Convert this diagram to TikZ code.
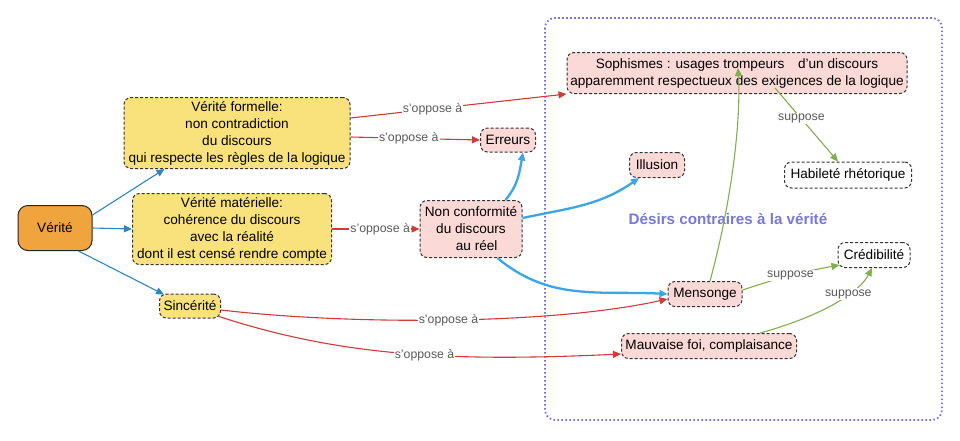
\documentclass[tikz,border=0pt]{standalone}
\usepackage{fontspec}
\setmainfont{Liberation Sans}
\usetikzlibrary{arrows.meta,calc}
\definecolor{yelfill}{HTML}{F9E27C}
\definecolor{pinkfill}{HTML}{FAD9D7}
\definecolor{orafill}{HTML}{F0A43E}
\definecolor{bluethin}{HTML}{2E86C1}
\definecolor{bluethick}{HTML}{3AA6E6}
\definecolor{redline}{HTML}{D23A3A}
\definecolor{greenline}{HTML}{80B04C}
\definecolor{purplebox}{HTML}{7F70E0}
\definecolor{titlecol}{HTML}{7878DC}
\definecolor{lblcol}{HTML}{5A5A5A}
\begin{document}
\begin{tikzpicture}[x=1pt,y=-1pt,
  concept/.style={draw=black!80, dash pattern=on 3pt off 2pt, line width=1pt,
    rounded corners=7pt, align=center, font=\fontsize{13.6}{17}\selectfont, inner sep=2pt},
  yel/.style={concept, fill=yelfill},
  pnk/.style={concept, fill=pinkfill},
  wht/.style={concept, fill=white},
  lbl/.style={fill=white, text=lblcol, font=\fontsize{12.3}{13}\selectfont, inner sep=1pt},
  tip/.style={-{Triangle[length=8pt,width=7pt]}},
  bthin/.style={tip, draw=bluethin, line width=1.1pt},
  bthick/.style={tip, draw=bluethick, line width=2.3pt},
  rline/.style={tip, draw=redline, line width=1.1pt},
  gline/.style={tip, draw=greenline, line width=1.1pt}
]
\useasboundingbox (0,0) rectangle (960,440);
\fill[white] (0,0) rectangle (960,440);

% big dotted container
\draw[purplebox, line width=1.8pt, dash pattern=on 1.6pt off 2.4pt, rounded corners=10pt]
  (545,18) rectangle (942,420);
\node[text=titlecol, font=\fontsize{15.2}{17}\selectfont\bfseries] (title) at (728,219) {Désirs contraires à la vérité};

% nodes
\node[draw=black!85, line width=1pt, fill=orafill, rounded corners=10pt,
      minimum width=74pt, minimum height=45pt, font=\fontsize{13.6}{16}\selectfont] (ver) at (55,228) {Vérité};
\node[yel, minimum width=226pt, minimum height=71pt] (form) at (237,133)
  {Vérité formelle:\\non contradiction\\du discours\\qui respecte les règles de la logique};
\node[yel, minimum width=199pt, minimum height=71pt] (mat) at (232,229)
  {Vérité matérielle:\\cohérence du discours\\avec la réalité\\dont il est censé rendre compte};
\node[yel, minimum width=61pt, minimum height=24pt] (sinc) at (190,306) {Sincérité};
\node[pnk, minimum width=55pt, minimum height=24pt] (err) at (508,140) {Erreurs};
\node[pnk, minimum width=102pt, minimum height=57pt] (nonc) at (471,229)
  {Non conformité\\du discours\\\ \ \ au réel};
\node[pnk, minimum width=55pt, minimum height=25pt] (ill) at (657,165) {Illusion};
\node[pnk, minimum width=340pt, minimum height=41pt] (soph) at (737,73)
  {Sophismes : usages trompeurs\quad d'un discours\\apparemment respectueux des exigences de la logique};
\node[wht, minimum width=127pt, minimum height=26pt] (hab) at (848,175) {Habileté rhétorique};
\node[wht, minimum width=72pt, minimum height=25pt] (cred) at (874,255) {Crédibilité};
\node[pnk, minimum width=74pt, minimum height=25pt] (ment) at (705,294) {Mensonge};
\node[pnk, minimum width=175pt, minimum height=25pt] (mauv) at (709,346) {Mauvaise foi, complaisance};

% blue thin edges from Vérité
\draw[bthin] ($(ver.east)+(0,-13)$) -- ($(form.south west)+(41,0)$);
\draw[bthin] (ver.east) -- (mat.west);
\draw[bthin] ($(ver.south east)+(-14,0)$) -- ($(sinc.north west)+(5,1)$);

% red edges
\draw[rline] ($(form.east)+(0,-15)$) -- node[lbl, pos=0.38] {s'oppose à} (soph.south west);
\draw[rline] ($(form.east)+(0,4)$) -- node[lbl, pos=0.45] {s'oppose à} (err.west);
\draw[rline] (mat.east) -- node[lbl, pos=0.55] {s'oppose à} (nonc.west);
\draw[rline] ($(sinc.east)+(0,4)$) .. controls (350,325) and (550,325) .. node[lbl, pos=0.5] {s'oppose à} ($(ment.west)+(0,5)$);
\draw[rline] ($(sinc.south east)+(-2,-2)$) .. controls (340,356) and (450,362) .. node[lbl, pos=0.56] {s'oppose à} ($(mauv.west)+(0,8)$);

% blue thick edges from Non conformité
\draw[bthick] ($(nonc.north east)+(-17,0)$) to[out=50,in=-100] ($(err.south)+(15,0)$);
\draw[bthick] ($(nonc.east)+(0,-11)$) to[out=12,in=-145] ($(ill.south west)+(10,0)$);
\draw[bthick] ($(nonc.south east)+(-25,0)$) to[out=-40,in=177] (ment.west);

% green edges
\draw[gline] ($(ment.north)+(5,0)$) .. controls (732,200) and (741,120) .. ($(soph.center)+(1,-5)$);
\draw[gline] ($(soph.south)+(38,-6)$) -- node[lbl, pos=0.42] {suppose} ($(hab.north)+(-10,0)$);
\draw[gline] ($(ment.east)+(0,-4)$) to[bend left=4] node[lbl, pos=0.5] {suppose} ($(cred.south west)+(2,-3)$);
\draw[gline] ($(mauv.north)+(51,0)$) .. controls (815,318) and (858,295) .. node[lbl, pos=0.66] {suppose} ($(cred.south)+(-2,0)$);
\end{tikzpicture}
\end{document}
